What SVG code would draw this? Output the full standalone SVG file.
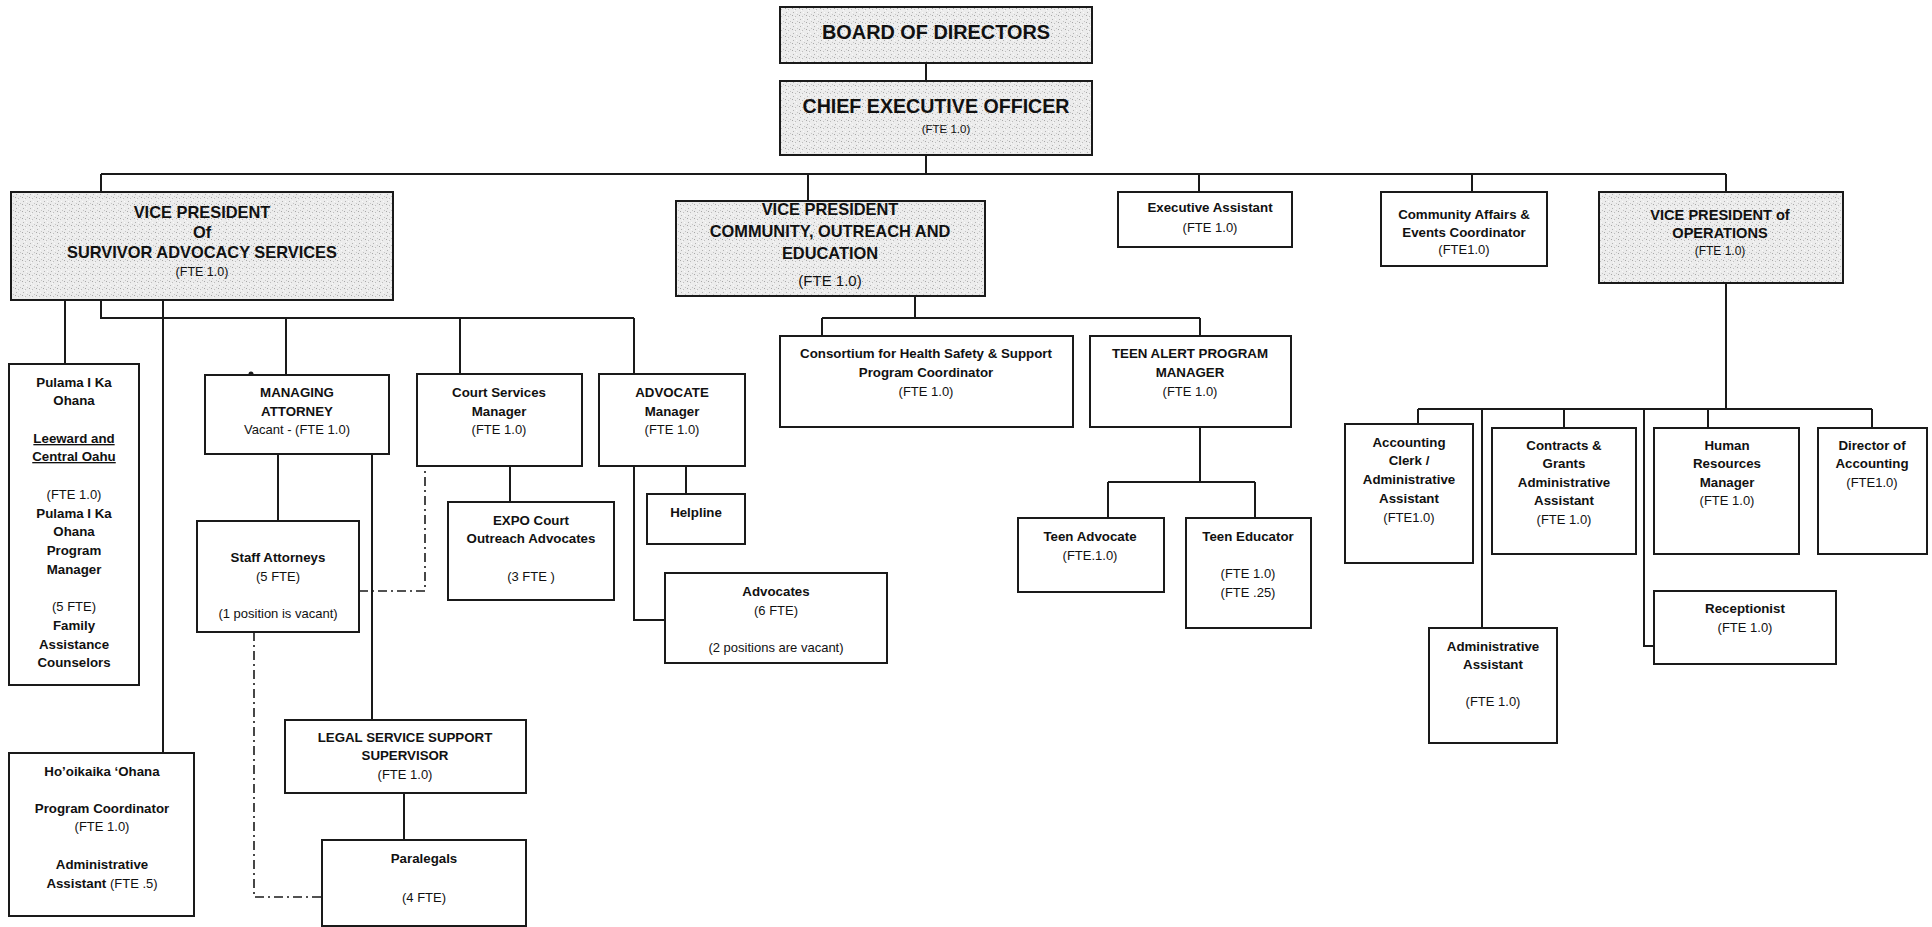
<svg xmlns="http://www.w3.org/2000/svg" width="1932" height="927" viewBox="0 0 1932 927">
<defs>
<pattern id="speckle" width="7" height="7" patternUnits="userSpaceOnUse">
<rect width="7" height="7" fill="#ececec"/>
<rect x="1" y="1" width="1" height="1" fill="#a6a6a6"/>
<rect x="4" y="2" width="1" height="1" fill="#bdbdbd"/>
<rect x="2" y="5" width="1" height="1" fill="#b3b3b3"/>
<rect x="5" y="5" width="1" height="1" fill="#fafafa"/>
<rect x="6" y="0" width="1" height="1" fill="#c4c4c4"/>
<rect x="3" y="3" width="1" height="1" fill="#f8f8f8"/>
</pattern>
<style>
.box{fill:#fff;stroke:#1a1a1a;stroke-width:2}
.sh{fill:url(#speckle);stroke:#1a1a1a;stroke-width:2}
.ln{fill:none;stroke:#1a1a1a;stroke-width:2}
.dd{fill:none;stroke:#1a1a1a;stroke-width:1.6;stroke-dasharray:9 4 2 4}
text{font-family:"Liberation Sans",Arial,sans-serif;fill:#111;text-anchor:middle}
.b{font-weight:bold;font-size:13.3px}
.r{font-size:13px}
.h{font-weight:bold;font-size:16.4px}
.u{text-decoration:underline}
</style>
</defs>

<g id="connectors">
<path class="ln" d="M926 63V81M926 155V174M101 174H1726M101 174V192M808 174V201M1199 174V192M1472 174V192M1726 174V192"/>
<path class="ln" d="M65 300V364M163 300V753M101 300V318H634M286 318V375M460 318V374M634 318V374"/>
<path class="ln" d="M278 454V521M372 454V720M404 793V840M510 466V502M686 466V494M634 466V620H665"/>
<path class="dd" d="M254 632V897H322M359 591H425V466"/>
<path class="ln" d="M915 296V318M822 318H1200M822 318V336M1200 318V336M1200 427V482M1108 482H1255M1108 482V518M1255 482V518"/>
<path class="ln" d="M1726 283V409M1418 409H1872M1418 409V424M1482 409V628M1564 409V428M1644 409V646H1654M1708 409V428M1872 409V428"/>
<circle cx="251" cy="374" r="2.5" fill="#1a1a1a"/>
</g>

<g id="board">
<rect class="sh" x="780" y="7" width="312" height="56"/>
<text x="936" y="39" font-weight="bold" font-size="21" textLength="228" lengthAdjust="spacingAndGlyphs">BOARD OF DIRECTORS</text>
</g>

<g id="ceo">
<rect class="sh" x="780" y="81" width="312" height="74"/>
<text x="936" y="113" font-weight="bold" font-size="21" textLength="267" lengthAdjust="spacingAndGlyphs">CHIEF EXECUTIVE OFFICER</text>
<text x="946" y="133" font-size="11.5">(FTE 1.0)</text>
</g>

<g id="vp-sas">
<rect class="sh" x="11" y="192" width="382" height="108"/>
<text class="h" x="202" y="218">VICE PRESIDENT</text>
<text class="h" x="202" y="238">Of</text>
<text class="h" x="202" y="258">SURVIVOR ADVOCACY SERVICES</text>
<text x="202" y="276" font-size="12.5">(FTE 1.0)</text>
</g>

<g id="vp-coe">
<rect class="sh" x="676" y="201" width="309" height="95"/>
<text class="h" x="830" y="215">VICE PRESIDENT</text>
<text class="h" x="830" y="237">COMMUNITY, OUTREACH AND</text>
<text class="h" x="830" y="259">EDUCATION</text>
<text x="830" y="286" font-size="15">(FTE 1.0)</text>
</g>

<g id="exec-assistant">
<rect class="box" x="1118" y="192" width="174" height="55"/>
<text class="b" x="1210" y="212">Executive Assistant</text>
<text class="r" x="1210" y="232">(FTE 1.0)</text>
</g>

<g id="community-affairs">
<rect class="box" x="1381" y="192" width="166" height="74"/>
<text class="b" x="1464" y="219">Community Affairs &amp;</text>
<text class="b" x="1464" y="237">Events Coordinator</text>
<text class="r" x="1464" y="254">(FTE1.0)</text>
</g>

<g id="vp-ops">
<rect class="sh" x="1599" y="192" width="244" height="91"/>
<text x="1720" y="220" font-weight="bold" font-size="14.6">VICE PRESIDENT of</text>
<text x="1720" y="238" font-weight="bold" font-size="14.6">OPERATIONS</text>
<text x="1720" y="255" font-size="12">(FTE 1.0)</text>
</g>

<g id="pulama">
<rect class="box" x="9" y="364" width="130" height="321"/>
<text class="b" x="74" y="387">Pulama I Ka</text>
<text class="b" x="74" y="405">Ohana</text>
<text class="b u" x="74" y="443">Leeward and</text>
<text class="b u" x="74" y="461">Central Oahu</text>
<text class="r" x="74" y="499">(FTE 1.0)</text>
<text class="b" x="74" y="518">Pulama I Ka</text>
<text class="b" x="74" y="536">Ohana</text>
<text class="b" x="74" y="555">Program</text>
<text class="b" x="74" y="574">Manager</text>
<text class="r" x="74" y="611">(5 FTE)</text>
<text class="b" x="74" y="630">Family</text>
<text class="b" x="74" y="649">Assistance</text>
<text class="b" x="74" y="667">Counselors</text>
</g>

<g id="hooikaika">
<rect class="box" x="9" y="753" width="185" height="163"/>
<text class="b" x="102" y="776">Ho’oikaika ‘Ohana</text>
<text class="b" x="102" y="813">Program Coordinator</text>
<text class="r" x="102" y="831">(FTE 1.0)</text>
<text class="b" x="102" y="869">Administrative</text>
<text x="102" y="888"><tspan class="b">Assistant </tspan><tspan class="r">(FTE .5)</tspan></text>
</g>

<g id="managing-attorney">
<rect class="box" x="205" y="375" width="184" height="79"/>
<text class="b" x="297" y="397">MANAGING</text>
<text class="b" x="297" y="416">ATTORNEY</text>
<text class="r" x="297" y="434">Vacant - (FTE 1.0)</text>
</g>

<g id="staff-attorneys">
<rect class="box" x="197" y="521" width="162" height="111"/>
<text class="b" x="278" y="562">Staff Attorneys</text>
<text class="r" x="278" y="581">(5 FTE)</text>
<text class="r" x="278" y="618">(1 position is vacant)</text>
</g>

<g id="legal-support">
<rect class="box" x="285" y="720" width="241" height="73"/>
<text class="b" x="405" y="742">LEGAL SERVICE SUPPORT</text>
<text class="b" x="405" y="760">SUPERVISOR</text>
<text class="r" x="405" y="779">(FTE 1.0)</text>
</g>

<g id="paralegals">
<rect class="box" x="322" y="840" width="204" height="86"/>
<text class="b" x="424" y="863">Paralegals</text>
<text class="r" x="424" y="902">(4 FTE)</text>
</g>

<g id="court-services">
<rect class="box" x="417" y="374" width="165" height="92"/>
<text class="b" x="499" y="397">Court Services</text>
<text class="b" x="499" y="416">Manager</text>
<text class="r" x="499" y="434">(FTE 1.0)</text>
</g>

<g id="expo-court">
<rect class="box" x="448" y="502" width="166" height="98"/>
<text class="b" x="531" y="525">EXPO Court</text>
<text class="b" x="531" y="543">Outreach Advocates</text>
<text class="r" x="531" y="581">(3 FTE )</text>
</g>

<g id="advocate-manager">
<rect class="box" x="599" y="374" width="146" height="92"/>
<text class="b" x="672" y="397">ADVOCATE</text>
<text class="b" x="672" y="416">Manager</text>
<text class="r" x="672" y="434">(FTE 1.0)</text>
</g>

<g id="helpline">
<rect class="box" x="647" y="494" width="98" height="50"/>
<text class="b" x="696" y="517">Helpline</text>
</g>

<g id="advocates">
<rect class="box" x="665" y="573" width="222" height="90"/>
<text class="b" x="776" y="596">Advocates</text>
<text class="r" x="776" y="615">(6 FTE)</text>
<text class="r" x="776" y="652">(2 positions are vacant)</text>
</g>

<g id="consortium">
<rect class="box" x="780" y="336" width="293" height="91"/>
<text class="b" x="926" y="358">Consortium for Health Safety &amp; Support</text>
<text class="b" x="926" y="377">Program Coordinator</text>
<text class="r" x="926" y="396">(FTE 1.0)</text>
</g>

<g id="teen-alert">
<rect class="box" x="1090" y="336" width="201" height="91"/>
<text class="b" x="1190" y="358">TEEN ALERT PROGRAM</text>
<text class="b" x="1190" y="377">MANAGER</text>
<text class="r" x="1190" y="396">(FTE 1.0)</text>
</g>

<g id="teen-advocate">
<rect class="box" x="1018" y="518" width="146" height="74"/>
<text class="b" x="1090" y="541">Teen Advocate</text>
<text class="r" x="1090" y="560">(FTE.1.0)</text>
</g>

<g id="teen-educator">
<rect class="box" x="1186" y="518" width="125" height="110"/>
<text class="b" x="1248" y="541">Teen Educator</text>
<text class="r" x="1248" y="578">(FTE 1.0)</text>
<text class="r" x="1248" y="597">(FTE .25)</text>
</g>

<g id="accounting-clerk">
<rect class="box" x="1345" y="424" width="128" height="139"/>
<text class="b" x="1409" y="447">Accounting</text>
<text class="b" x="1409" y="465">Clerk /</text>
<text class="b" x="1409" y="484">Administrative</text>
<text class="b" x="1409" y="503">Assistant</text>
<text class="r" x="1409" y="522">(FTE1.0)</text>
</g>

<g id="contracts-grants">
<rect class="box" x="1492" y="428" width="144" height="126"/>
<text class="b" x="1564" y="450">Contracts &amp;</text>
<text class="b" x="1564" y="468">Grants</text>
<text class="b" x="1564" y="487">Administrative</text>
<text class="b" x="1564" y="505">Assistant</text>
<text class="r" x="1564" y="524">(FTE 1.0)</text>
</g>

<g id="hr-manager">
<rect class="box" x="1654" y="428" width="145" height="126"/>
<text class="b" x="1727" y="450">Human</text>
<text class="b" x="1727" y="468">Resources</text>
<text class="b" x="1727" y="487">Manager</text>
<text class="r" x="1727" y="505">(FTE 1.0)</text>
</g>

<g id="director-accounting">
<rect class="box" x="1818" y="428" width="109" height="126"/>
<text class="b" x="1872" y="450">Director of</text>
<text class="b" x="1872" y="468">Accounting</text>
<text class="r" x="1872" y="487">(FTE1.0)</text>
</g>

<g id="receptionist">
<rect class="box" x="1654" y="591" width="182" height="73"/>
<text class="b" x="1745" y="613">Receptionist</text>
<text class="r" x="1745" y="632">(FTE 1.0)</text>
</g>

<g id="admin-assistant">
<rect class="box" x="1429" y="628" width="128" height="115"/>
<text class="b" x="1493" y="651">Administrative</text>
<text class="b" x="1493" y="669">Assistant</text>
<text class="r" x="1493" y="706">(FTE 1.0)</text>
</g>
</svg>
